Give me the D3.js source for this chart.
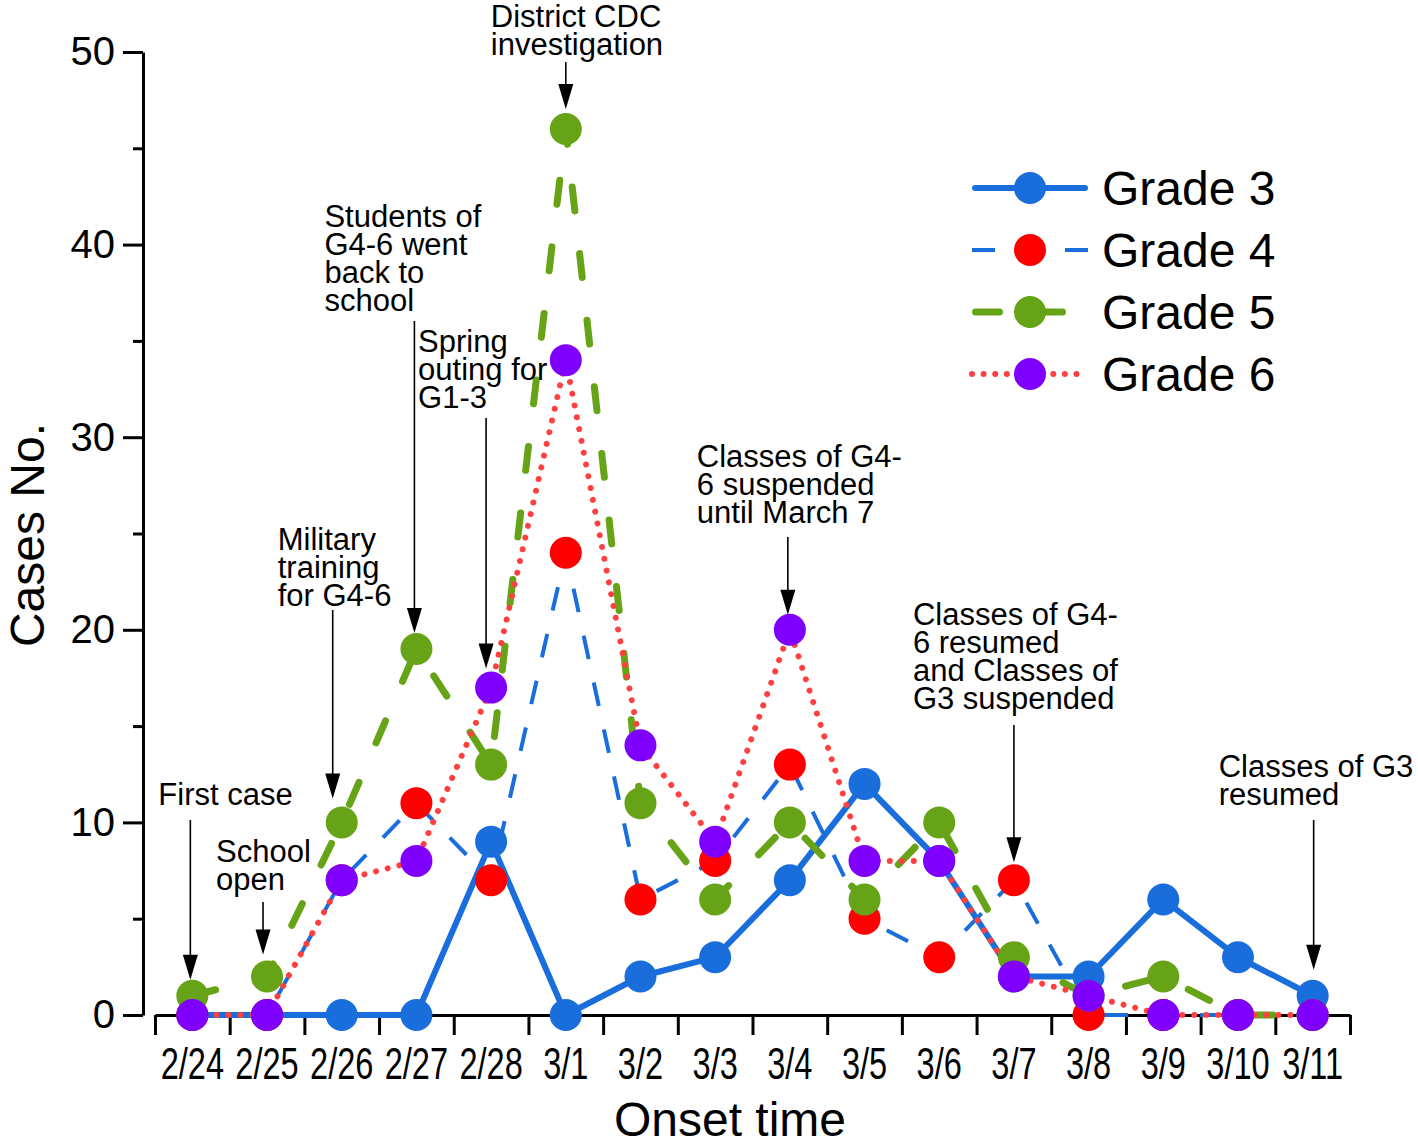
<!DOCTYPE html>
<html><head><meta charset="utf-8">
<script src="https://cdn.jsdelivr.net/npm/d3@7"></script>
<style>
body{margin:0;background:#fff}
svg{display:block;background:#fff}
text{font-family:"Liberation Sans",Arial,Helvetica,sans-serif;fill:#000}
</style>
</head><body>
<svg id="c" width="1418" height="1147"></svg>
<script>
// ---------------- data ----------------
const categories = ["2/24","2/25","2/26","2/27","2/28","3/1","3/2","3/3","3/4","3/5","3/6","3/7","3/8","3/9","3/10","3/11"];
const seriesNames = ["Grade 3","Grade 4","Grade 5","Grade 6"];
const grade3 = [0,0,0,0,9,0,2,3,7,12,8,2,2,6,3,1];
const grade4 = [0,0,7,11,7,24,6,8,13,5,3,7,0,0,0,0];
const grade5 = [1,2,10,19,13,46,11,6,10,6,10,3,1,2,0,0];
const grade6 = [0,0,7,8,17,34,14,9,20,8,8,2,1,0,0,0];
const yMajorTicks = [0,10,20,30,40,50];
const yMinorTicks = [5,15,25,35,45];
const xTitle = "Onset time";
const yTitle = "Cases No.";

// annotations: text, category and the series the arrow points at
const annotationTexts = [
  ["First case"],
  ["School","open"],
  ["Military","training","for G4-6"],
  ["Students of","G4-6 went","back to","school"],
  ["Spring","outing for","G1-3"],
  ["District CDC","investigation"],
  ["Classes of G4-","6 suspended","until March 7"],
  ["Classes of G4-","6 resumed","and Classes of","G3 suspended"],
  ["Classes of G3","resumed"]
];
const annotationCats = ["2/24","2/25","2/26","2/27","2/28","3/1","3/4","3/7","3/11"];
const annotationSeries = [2,2,2,2,3,2,3,1,0];

// ---------------- styles / layout ----------------
const allValues = [grade3, grade4, grade5, grade6];
const styles = [
  {stroke:"#1A6EDC", width:6, dash:null,      cap:"round", marker:"#1A6EDC", legendDash:null,        legendInset:3},
  {stroke:"#1A6EDC", width:4, dash:"24 24",   cap:"butt",  marker:"#FF0000", legendDash:"23 70",     legendInset:0},
  {stroke:"#66A316", width:7, dash:"24 43",   cap:"round", marker:"#66A316", legendDash:"24 39",     legendInset:3.5},
  {stroke:"#FF4040", width:6, dash:"0.01 12", cap:"round", marker:"#8000FF", legendDash:"0.01 11.6", legendInset:0}
];
// annotation layout: text offset from category centre, first baseline, arrow offset, arrow top, gap above marker centre
const annLayout = [
  {tdx:-34, base:805, adx:-2, top:820, gap:16},
  {tdx:-51, base:862, adx:-4, top:902, gap:22},
  {tdx:-64, base:550, adx:-9, top:610, gap:24},
  {tdx:-92, base:227, adx:-2, top:321, gap:16},
  {tdx:-73, base:352, adx:-5, top:418, gap:19},
  {tdx:-75, base:27,  adx:0,  top:62,  gap:20},
  {tdx:-93, base:467, adx:-2, top:537, gap:15},
  {tdx:-101,base:625, adx:0,  top:725, gap:18},
  {tdx:-94, base:777, adx:1,  top:820, gap:26}
];
const R = 16;

const svg = d3.select("#c");
const x = d3.scaleBand().domain(categories).range([155,1350]).padding(0);
const xEdge = d3.scaleLinear().domain([0,categories.length]).range([155,1350]);
const y = d3.scaleLinear().domain([0,50]).range([1015,52]);
const cx = c => x(c) + x.bandwidth()/2;

// ---------------- axes ----------------
const yAxisG = svg.append("g").attr("transform","translate(143,0)");
yAxisG.call(d3.axisLeft(y).tickValues(yMajorTicks).tickSize(20).tickSizeOuter(0).tickPadding(8));
yAxisG.select(".domain").attr("stroke","#000").attr("stroke-width",3);
yAxisG.selectAll(".tick line").attr("stroke","#000").attr("stroke-width",3);
yAxisG.selectAll(".tick text").attr("font-size",40).attr("font-family","'Liberation Sans',Arial,sans-serif").attr("fill","#000");
const yMinorG = svg.append("g").attr("transform","translate(143,0)");
yMinorG.call(d3.axisLeft(y).tickValues(yMinorTicks).tickSize(10).tickSizeOuter(0).tickFormat(""));
yMinorG.select(".domain").remove();
yMinorG.selectAll(".tick line").attr("stroke","#000").attr("stroke-width",3);

const xAxisG = svg.append("g").attr("transform","translate(0,1015)");
xAxisG.call(d3.axisBottom(xEdge).tickValues(d3.range(categories.length+1)).tickSize(20).tickSizeOuter(0).tickFormat(""));
xAxisG.select(".domain").attr("stroke","#000").attr("stroke-width",3);
xAxisG.selectAll(".tick line").attr("stroke","#000").attr("stroke-width",3);

const xLabG = svg.append("g").attr("transform","translate(0,1015)");
xLabG.call(d3.axisBottom(x).tickSize(0).tickPadding(0));
xLabG.select(".domain").remove();
xLabG.selectAll(".tick text")
  .attr("font-size",44).attr("font-family","'Liberation Sans',Arial,sans-serif").attr("fill","#000")
  .attr("y",0).attr("dy",0)
  .attr("transform","translate(0,64) scale(0.74,1)");

svg.append("text").attr("x",730).attr("y",1136).attr("text-anchor","middle")
  .attr("font-size",48).text(xTitle);
svg.append("text").attr("transform","translate(44,535) rotate(-90)").attr("text-anchor","middle")
  .attr("font-size",48).text(yTitle);

// ---------------- lines ----------------
const line = d3.line().x((d,i)=>cx(categories[i])).y(d=>y(d));
allValues.forEach((vals,si)=>{
  const s = styles[si];
  svg.append("path").datum(vals).attr("d",line)
    .attr("fill","none").attr("stroke",s.stroke).attr("stroke-width",s.width)
    .attr("stroke-linecap",s.cap).attr("stroke-linejoin","round")
    .attr("stroke-dasharray",s.dash);
});
// ---------------- markers ----------------
allValues.forEach((vals,si)=>{
  svg.append("g").selectAll("circle").data(vals).join("circle")
    .attr("cx",(d,i)=>cx(categories[i])).attr("cy",d=>y(d)).attr("r",R)
    .attr("fill",styles[si].marker);
});

// ---------------- annotations ----------------
annotationTexts.forEach((lines,k)=>{
  const L = annLayout[k];
  const c = cx(annotationCats[k]);
  const v = allValues[annotationSeries[k]][categories.indexOf(annotationCats[k])];
  const t = svg.append("text").attr("font-size",31);
  lines.forEach((ln,j)=>{
    t.append("tspan").attr("x",c+L.tdx).attr("y",L.base+j*28).text(ln);
  });
  const ax = c + L.adx;
  const tip = y(v) - L.gap;
  svg.append("line").attr("x1",ax).attr("x2",ax).attr("y1",L.top).attr("y2",tip-20)
    .attr("stroke","#000").attr("stroke-width",1.6);
  svg.append("path").attr("d",`M${ax},${tip} L${ax-7.5},${tip-25} L${ax+7.5},${tip-25} Z`).attr("fill","#000");
});

// ---------------- legend ----------------
const legend = svg.append("g");
seriesNames.forEach((name,i)=>{
  const s = styles[i];
  const ly = 188 + i*62;
  legend.append("line").attr("x1",972+s.legendInset).attr("x2",1088-s.legendInset)
    .attr("y1",ly).attr("y2",ly)
    .attr("stroke",s.stroke).attr("stroke-width",s.width).attr("stroke-linecap",s.cap)
    .attr("stroke-dasharray",s.legendDash);
  legend.append("circle").attr("cx",1030).attr("cy",ly).attr("r",R).attr("fill",s.marker);
  legend.append("text").attr("x",1102).attr("y",ly+17).attr("font-size",48).text(name);
});
</script>
</body></html>
